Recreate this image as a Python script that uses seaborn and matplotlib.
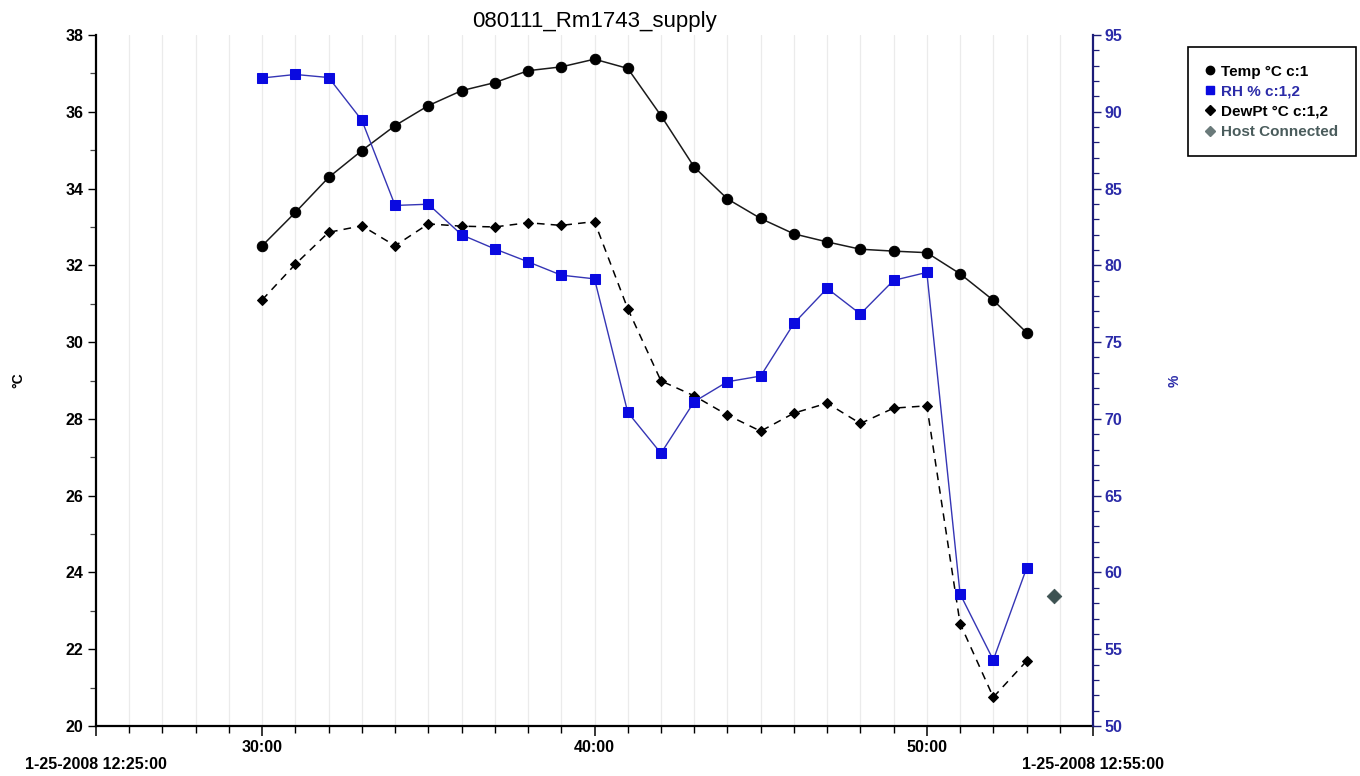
import matplotlib
matplotlib.use('Agg')
import matplotlib.pyplot as plt
import seaborn as sns
import pandas as pd
from matplotlib.ticker import MultipleLocator, FixedLocator
from matplotlib.lines import Line2D

# ---------------- data ----------------
minutes = list(range(30, 54))  # minute of the hour, 12:30 ... 12:53
temp = [32.51, 33.38, 34.29, 34.99, 35.64, 36.16, 36.55, 36.76, 37.07, 37.17,
        37.37, 37.13, 35.90, 34.56, 33.73, 33.22, 32.82, 32.61, 32.42, 32.37,
        32.33, 31.78, 31.09, 30.25]
rh = [92.20, 92.43, 92.23, 89.45, 83.90, 83.98, 81.99, 81.07, 80.23, 79.36,
      79.12, 70.43, 67.76, 71.12, 72.42, 72.79, 76.22, 78.50, 76.83, 79.02,
      79.54, 58.60, 54.30, 60.27]
dewpt = [31.10, 32.03, 32.86, 33.03, 32.51, 33.08, 33.02, 33.00, 33.11, 33.04,
         33.14, 30.87, 28.99, 28.60, 28.10, 27.68, 28.15, 28.41, 27.88, 28.28,
         28.34, 22.67, 20.75, 21.69]
host_minute = [53.83]
host_value = [58.48]

x_major = [25, 30, 40, 50, 55]
x_labels = ['\n1-25-2008 12:25:00', '30:00', '40:00', '50:00', '\n1-25-2008 12:55:00']
series_names = ['Temp \u00b0C c:1', 'RH % c:1,2', 'DewPt \u00b0C c:1,2', 'Host Connected']
title = '080111_Rm1743_supply'

# ---------------- style ----------------
sns.set_theme(style='white')
plt.rcParams['font.family'] = ['Liberation Sans', 'DejaVu Sans']
plt.rcParams['font.weight'] = 'bold'
plt.rcParams['text.color'] = 'black'
plt.rcParams['axes.labelcolor'] = 'black'

W, H = 1360, 776
fig = plt.figure(figsize=(W / 100, H / 100), dpi=100)
fig.patch.set_facecolor('white')
L, R, T, B = 96, 1093, 35, 726
ax = fig.add_axes([L / W, 1 - B / H, (R - L) / W, (B - T) / H])
ax2 = ax.twinx()

df = pd.DataFrame({'minute': minutes, 'temp': temp, 'rh': rh, 'dewpt': dewpt})
hdf = pd.DataFrame({'minute': host_minute, 'value': host_value})

temp_col = '#1a1a1a'
rh_line = '#3535b5'
rh_mark = '#0a0ae0'
host_col = '#3d5252'

sns.lineplot(data=df, x='minute', y='temp', ax=ax, color=temp_col, lw=1.1,
             marker='o', markersize=7.5, markerfacecolor='black',
             markeredgecolor='black', zorder=4)
sns.lineplot(data=df, x='minute', y='dewpt', ax=ax, color='black', lw=1.1,
             linestyle=(0, (5, 4)), marker='D', markersize=5,
             markerfacecolor='black', markeredgecolor='black', zorder=3)
sns.lineplot(data=df, x='minute', y='rh', ax=ax2, color=rh_line, lw=1.0,
             marker='s', markersize=7.5, markerfacecolor=rh_mark,
             markeredgecolor=rh_mark, zorder=5)
sns.scatterplot(data=hdf, x='minute', y='value', ax=ax2, marker='D', s=55,
                color=host_col, edgecolor=host_col, zorder=5)

# ---------------- axes ----------------
ax.set_xlim(25, 55)
ax.set_ylim(20, 38)
ax2.set_ylim(50, 95)

ax.xaxis.set_major_locator(FixedLocator(x_major))
ax.set_xticklabels(x_labels)
ax.xaxis.set_minor_locator(MultipleLocator(1))
ax.yaxis.set_major_locator(MultipleLocator(2))
ax.yaxis.set_minor_locator(MultipleLocator(1))
ax2.yaxis.set_major_locator(MultipleLocator(5))
ax2.yaxis.set_minor_locator(MultipleLocator(1))

ax.grid(False)
ax2.grid(False)
for m in range(26, 55):
    ax.axvline(m, color='#ebebeb', lw=0.9, zorder=0)

for s in ['top', 'right']:
    ax.spines[s].set_visible(False)
for s in ['top', 'left', 'bottom']:
    ax2.spines[s].set_visible(False)
ax.spines['left'].set_color('black')
ax.spines['left'].set_linewidth(1.6)
ax.spines['bottom'].set_color('black')
ax.spines['bottom'].set_linewidth(1.6)
ax2.spines['right'].set_color('#1c1c78')
ax2.spines['right'].set_linewidth(1.6)

ax.tick_params(axis='x', which='major', bottom=True, direction='out', length=7,
               width=1.1, color='black', labelsize=11.5, pad=3, labelcolor='black')
ax.tick_params(axis='x', which='minor', bottom=True, direction='out', length=5,
               width=1.0, color='black')
ax.tick_params(axis='y', which='major', left=True, direction='out', length=6,
               width=1.0, color='black', labelsize=11.5, pad=3, labelcolor='black')
ax.tick_params(axis='y', which='minor', left=True, direction='out', length=4,
               width=0.9, color='#444444')
ax2.tick_params(axis='y', which='major', right=True, direction='out', length=6,
                width=1.0, color='#1c1c78', labelsize=11.5, pad=2, labelcolor='#2b2ba8')
ax2.tick_params(axis='y', which='minor', right=True, direction='out', length=4,
                width=0.9, color='#1c1c78')

ax.set_xlabel('')
ax.set_ylabel('\u00b0C', fontsize=10, fontweight='bold', color='black')
ax.yaxis.set_label_coords((25 - L) / (R - L), 0.5)
ax2.set_ylabel('%', fontsize=10, fontweight='bold', color='#2b2ba8')
ax2.yaxis.set_label_coords((1168 - L) / (R - L), 0.5)

ax.set_title(title, fontsize=16, fontweight='normal', color='black', pad=6)

# ---------------- legend ----------------
handles = [
    Line2D([], [], linestyle='none', marker='o', markersize=6, color='black'),
    Line2D([], [], linestyle='none', marker='s', markersize=6, color=rh_mark),
    Line2D([], [], linestyle='none', marker='D', markersize=5, color='black'),
    Line2D([], [], linestyle='none', marker='D', markersize=5, color='#6a7a7a'),
]
leg = fig.legend(handles, series_names, loc='upper left',
                 bbox_to_anchor=(1188 / W, 1 - 47 / H), frameon=True,
                 fancybox=False, edgecolor='black', framealpha=1,
                 prop={'size': 11, 'weight': 'bold'}, handlelength=0.6,
                 handletextpad=0.4, borderpad=1.15, labelspacing=0.4,
                 borderaxespad=0)
leg.get_frame().set_linewidth(1.2)
text_cols = ['black', '#2b2ba8', 'black', '#4a5c5c']
for t, c in zip(leg.get_texts(), text_cols):
    t.set_color(c)

fig.savefig('out.png', dpi=100, facecolor='white')
